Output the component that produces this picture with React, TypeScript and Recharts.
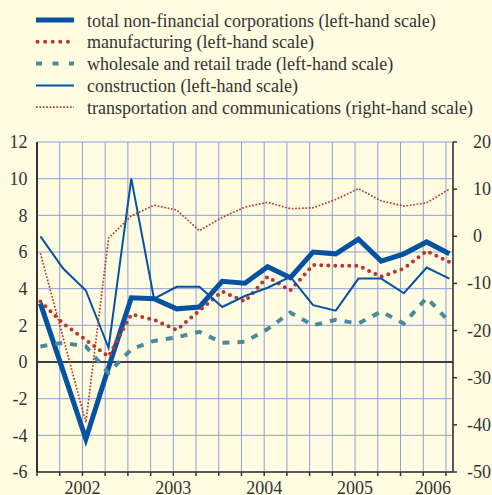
import React from 'react';
import { LineChart, Line, XAxis, YAxis, CartesianGrid, ReferenceLine, Legend } from 'recharts';

const quarters = [
  '2002 Q1', '2002 Q2', '2002 Q3', '2002 Q4',
  '2003 Q1', '2003 Q2', '2003 Q3', '2003 Q4',
  '2004 Q1', '2004 Q2', '2004 Q3', '2004 Q4',
  '2005 Q1', '2005 Q2', '2005 Q3', '2005 Q4',
  '2006 Q1', '2006 Q2', '2006 Q3',
];
const total = [3.2, -0.5, -4.2, -0.3, 3.5, 3.45, 2.9, 3.0, 4.4, 4.3, 5.2, 4.6, 6.0, 5.9, 6.7, 5.5, 5.9, 6.55, 5.9];
const manufacturing = [3.3, 2.1, 1.2, 0.3, 2.6, 2.3, 1.75, 2.8, 3.85, 3.3, 4.65, 3.9, 5.3, 5.25, 5.25, 4.65, 5.1, 6.05, 5.45];
const wholesale = [0.85, 1.05, 0.85, -0.6, 0.7, 1.15, 1.35, 1.65, 1.05, 1.1, 1.8, 2.7, 2.0, 2.3, 2.1, 2.75, 2.1, 3.5, 2.2];
const construction = [6.85, 5.1, 3.9, 0.77, 10.0, 3.45, 4.1, 4.1, 3.0, 3.6, 4.05, 4.65, 3.1, 2.8, 4.55, 4.55, 3.75, 5.15, 4.55];
const transport = [-3.6, -21.5, -39.5, -0.4, 4.3, 6.6, 5.55, 1.2, 4.0, 6.2, 7.2, 5.85, 6.05, 7.8, 10.1, 7.5, 6.4, 7.1, 10.0];

const seriesNames = [
  'total non-financial corporations (left-hand scale)',
  'manufacturing (left-hand scale)',
  'wholesale and retail trade (left-hand scale)',
  'construction (left-hand scale)',
  'transportation and communications (right-hand scale)',
];
const yearLabels = ['2002', '2003', '2004', '2005', '2006'];
const leftTicks = [-6, -4, -2, 0, 2, 4, 6, 8, 10, 12];
const rightTicks = [-50, -40, -30, -20, -10, 0, 10, 20];
const quarterTicks = quarters.map((_, i) => i);

const BLUE = '#0652a2';
const RED = '#b23a30';
const TEAL = '#4a8a9c';
const TEXT = '#333333';
const GRID = '#8e9fd8';
const BG = '#fffce1';
const FONT = '"Liberation Serif", "Times New Roman", serif';

// data sit slightly after the quarter gridline
const POINT_OFFSET = 0.15;

const data = quarters.map((q, i) => ({
  x: i + POINT_OFFSET,
  quarter: q,
  total: total[i],
  manufacturing: manufacturing[i],
  wholesale: wholesale[i],
  construction: construction[i],
  transport: transport[i],
}));

const legendStyles = [
  { stroke: BLUE, strokeWidth: 5, dash: undefined, cap: 'butt' },
  { stroke: RED, strokeWidth: 4, dash: '0 7.6', cap: 'round' },
  { stroke: TEAL, strokeWidth: 4, dash: '6 10.5', cap: 'butt' },
  { stroke: BLUE, strokeWidth: 2, dash: undefined, cap: 'butt' },
  { stroke: RED, strokeWidth: 1.7, dash: '1.7 1.7', cap: 'butt' },
];

const renderLegend = () => (
  <svg width={492} height={125} style={{ display: 'block' }}>
    {seriesNames.map((name, i) => {
      const y = 20 + i * 21.8;
      const st = legendStyles[i];
      return (
        <g key={name}>
          <line
            x1={st.cap === 'round' ? 37.5 : 36}
            x2={st.cap === 'round' ? 70 : 74}
            y1={y}
            y2={y}
            stroke={st.stroke}
            strokeWidth={st.strokeWidth}
            strokeDasharray={st.dash}
            strokeLinecap={st.cap as any}
          />
          <text x={87} y={y + 6.5} fontSize={18} fontFamily={FONT} fill={TEXT}>
            {name}
          </text>
        </g>
      );
    })}
  </svg>
);

const XTick = (props: any) => {
  const { x, y, payload } = props;
  const v = payload.value;
  if (v % 4 !== 2) return null;
  const label = yearLabels[(v - 2) / 4];
  const cx = Math.min(x, 433);
  return (
    <text x={cx} y={y} dy={16} textAnchor="middle" fontSize={18} fontFamily={FONT} fill={TEXT}>
      {label}
    </text>
  );
};

const RightTick = (props: any) => {
  const { x, y, payload } = props;
  const v = payload.value;
  return (
    <text
      x={x}
      y={y}
      dx={v < 0 ? -6 : 0}
      dy={6}
      textAnchor="start"
      fontSize={18}
      fontFamily={FONT}
      fill={TEXT}
    >
      {v < 0 ? `-${Math.abs(v)}` : `${v}`}
    </text>
  );
};

export default function App() {
  return (
    <div style={{ position: 'absolute', left: 0, top: 0, width: 492, height: 495, background: BG }}>
      <LineChart width={492} height={495} data={data} margin={{ top: 142, right: 0, bottom: 0, left: 0 }}>
        <CartesianGrid stroke={GRID} strokeWidth={1} />
        <XAxis
          dataKey="x"
          type="number"
          domain={[0, 18.31]}
          ticks={quarterTicks}
          allowDataOverflow
          height={23}
          axisLine={{ stroke: TEXT, strokeWidth: 1.5 }}
          tickLine={{ stroke: TEXT, strokeWidth: 1.5 }}
          tickSize={4}
          tickMargin={2}
          tick={<XTick />}
          interval={0}
        />
        <YAxis
          domain={[-6, 12]}
          ticks={leftTicks}
          width={37}
          axisLine={{ stroke: TEXT, strokeWidth: 2 }}
          tickLine={false}
          tickMargin={3.5}
          tick={{ fontSize: 18, fontFamily: FONT, fill: TEXT }}
          interval={0}
        />
        <YAxis
          yAxisId="right"
          orientation="right"
          domain={[-50, 20]}
          ticks={rightTicks}
          width={39}
          axisLine={{ stroke: TEXT, strokeWidth: 1.5 }}
          tickLine={{ stroke: TEXT, strokeWidth: 1.5 }}
          tickSize={4}
          tickMargin={16}
          tick={<RightTick />}
          interval={0}
        />
        <ReferenceLine y={0} stroke="#111111" strokeWidth={1.5} />
        <Legend
          content={renderLegend}
          layout="horizontal"
          verticalAlign="middle"
          align="center"
          wrapperStyle={{ position: 'absolute', top: 0, left: 0, width: 492, height: 125 }}
        />
        <Line type="linear" dataKey="total" stroke={BLUE} strokeWidth={5} dot={false} activeDot={false} isAnimationActive={false} />
        <Line type="linear" dataKey="manufacturing" stroke={RED} strokeWidth={4} strokeDasharray="0 7" strokeLinecap="round" dot={false} activeDot={false} isAnimationActive={false} />
        <Line type="linear" dataKey="wholesale" stroke={TEAL} strokeWidth={4} strokeDasharray="7 8" dot={false} activeDot={false} isAnimationActive={false} />
        <Line type="linear" dataKey="construction" stroke={BLUE} strokeWidth={2} dot={false} activeDot={false} isAnimationActive={false} />
        <Line type="linear" dataKey="transport" yAxisId="right" stroke={RED} strokeWidth={1.7} strokeDasharray="1.7 1.7" dot={false} activeDot={false} isAnimationActive={false} />
      </LineChart>
    </div>
  );
}
